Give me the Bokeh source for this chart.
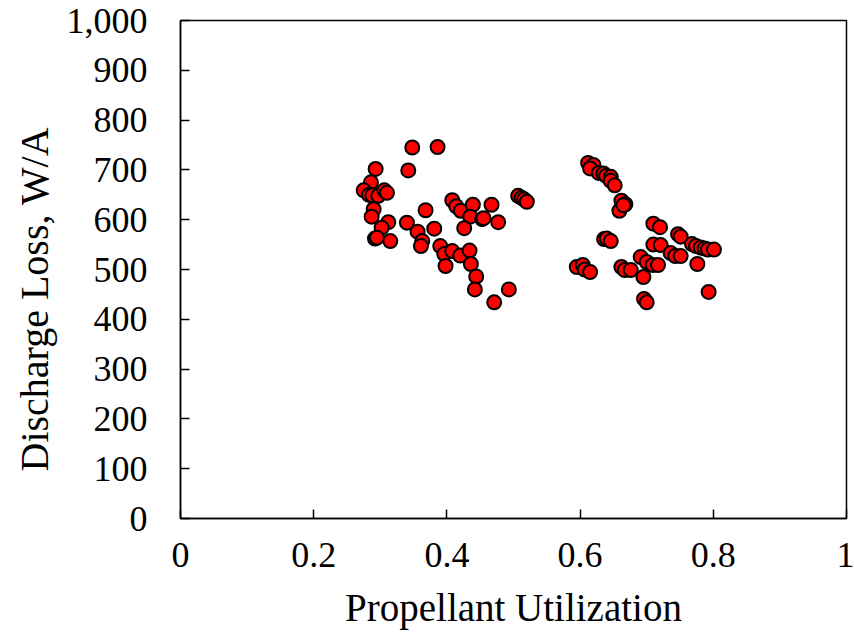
from bokeh.plotting import figure
from bokeh.embed import file_html
from bokeh.resources import INLINE
from bokeh.models import NumeralTickFormatter, FixedTicker, Range1d, Title

utilization = [
    0.348, 0.386, 0.293, 0.342, 0.286, 0.275, 0.283, 0.288, 0.297, 0.306,
    0.310, 0.290, 0.287, 0.312, 0.302, 0.292, 0.295, 0.315, 0.368, 0.340,
    0.356, 0.363, 0.361, 0.381, 0.408, 0.414, 0.421, 0.439, 0.467, 0.435,
    0.453, 0.455, 0.477, 0.426, 0.390, 0.396, 0.408, 0.420, 0.434, 0.398,
    0.436, 0.444, 0.442, 0.493, 0.471, 0.507, 0.512, 0.516, 0.520,
    0.612, 0.620, 0.615, 0.628, 0.635, 0.639, 0.646, 0.646, 0.652, 0.662,
    0.668, 0.659, 0.665, 0.636, 0.640, 0.646, 0.595, 0.604, 0.607, 0.615,
    0.662, 0.667, 0.676, 0.695, 0.691, 0.700, 0.709, 0.717, 0.696, 0.700,
    0.710, 0.720, 0.710, 0.721, 0.736, 0.743, 0.751, 0.747, 0.751, 0.768,
    0.774, 0.781, 0.787, 0.792, 0.801, 0.776, 0.793,
]
discharge_loss = [
    745, 746, 702, 699, 675, 659, 650, 649, 648, 659,
    654, 621, 606, 595, 584, 562, 564, 557, 619, 594,
    576, 557, 547, 582, 639, 627, 618, 630, 630, 606,
    601, 603, 595, 583, 547, 531, 537, 528, 538, 507,
    511, 486, 460, 460, 434, 648, 644, 641, 636,
    714, 710, 703, 694, 693, 688, 686, 678, 669, 638,
    631, 618, 629, 561, 562, 557, 505, 509, 500, 495,
    505, 499, 499, 485, 525, 515, 509, 509, 441, 434,
    592, 585, 550, 549, 533, 527, 527, 571, 566, 551,
    547, 544, 542, 540, 540, 511, 455,
]
x_ticks = [0, 0.2, 0.4, 0.6, 0.8, 1]
y_ticks = [0, 100, 200, 300, 400, 500, 600, 700, 800, 900, 1000]
x_title = "Propellant Utilization"
y_title = "Discharge Loss, W/A"

FONT = "Liberation Serif"

p = figure(
    width=854, height=641,
    frame_width=666, frame_height=498,
    min_border_left=180, min_border_right=8, min_border_top=20, min_border_bottom=123,
    x_range=Range1d(0, 1), y_range=Range1d(0, 1000),
    output_backend="svg", toolbar_location=None,
)
p.scatter(utilization, discharge_loss, size=14, fill_color="#ff0000",
          line_color="black", line_width=2)

p.grid.visible = False
p.outline_line_color = "black"
p.outline_line_width = 1.5
p.outline_line_alpha = 1

for ax in (p.xaxis[0], p.yaxis[0]):
    ax.major_tick_in = 9
    ax.major_tick_out = 0
    ax.minor_tick_line_color = None
    ax.axis_line_color = "black"
    ax.axis_line_width = 1.5
    ax.major_tick_line_width = 1.5
    ax.major_label_text_font = FONT
    ax.major_label_text_font_size = "36px"
    ax.major_label_text_color = "black"
    ax.axis_label_text_font = FONT
    ax.axis_label_text_font_size = "39px"
    ax.axis_label_text_font_style = "normal"
    ax.axis_label_text_color = "black"

p.xaxis[0].ticker = FixedTicker(ticks=x_ticks)
p.yaxis[0].ticker = FixedTicker(ticks=y_ticks)
p.xaxis[0].formatter = NumeralTickFormatter(format="0.[0]")
p.yaxis[0].formatter = NumeralTickFormatter(format="0,0")
p.xaxis[0].axis_label = x_title
p.xaxis[0].major_label_standoff = 24
p.yaxis[0].major_label_standoff = 33
p.xaxis[0].axis_label_standoff = 16

# y-axis title as a side title, shifted a little below the frame's middle
p.add_layout(Title(
    text=y_title, align="left", offset=47, standoff=13,
    text_font=FONT, text_font_size="40px", text_font_style="normal",
    text_color="black",
), "left")

open("out.html", "w").write(file_html(p, INLINE))
